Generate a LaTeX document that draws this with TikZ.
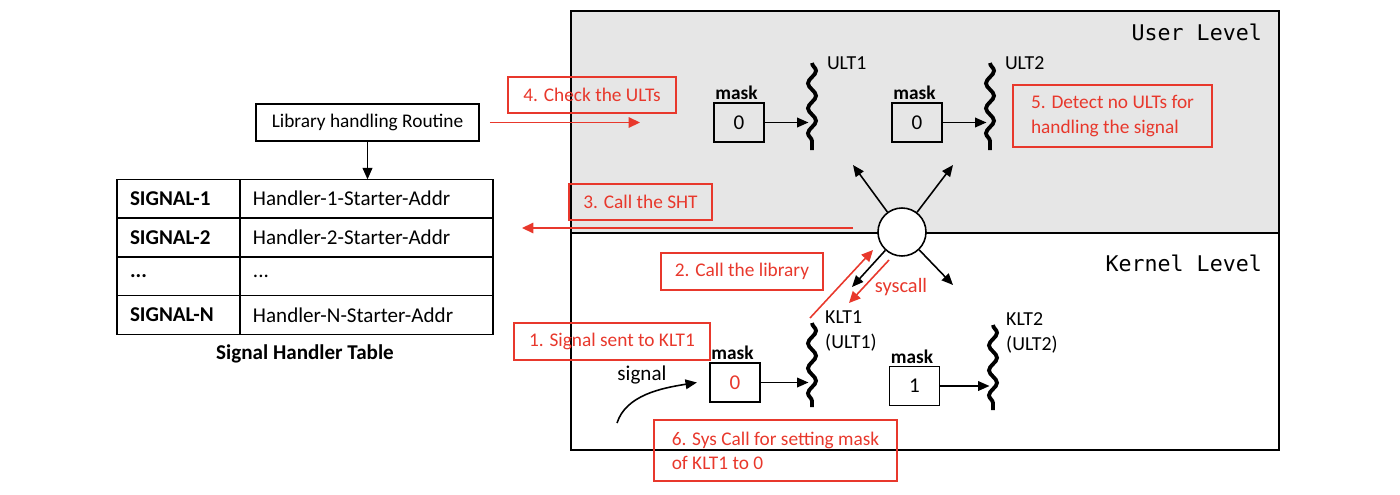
\documentclass[tikz,border=0pt]{standalone}
\usepackage{fontspec}
\setmainfont{Carlito}
\setmonofont{DejaVu Sans Mono}
\usepackage{xcolor}
\usepackage{tikz}
\usetikzlibrary{arrows.meta, positioning, decorations.pathmorphing, calc}
\definecolor{notered}{RGB}{232,56,44}
\definecolor{userbg}{RGB}{230,230,230}
\tikzstyle{level} = [rectangle, draw=black, line width=0.9pt, minimum width=14.16cm, inner sep=0pt]
\tikzstyle{levellabel} = [anchor=east, font=\ttfamily\fontsize{12.3}{14}\selectfont]
\tikzstyle{process} = [rectangle, draw=black, line width=0.9pt, minimum width=4.46cm, minimum height=0.74cm, text centered, font=\fontsize{11}{13}\selectfont]
\tikzstyle{cellkey} = [rectangle, draw=black, line width=0.9pt, outer sep=0pt, minimum height=0.775cm, text width=1.94cm, inner xsep=7.4pt, align=left, font=\bfseries\fontsize{12}{14}\selectfont]
\tikzstyle{cellval} = [rectangle, draw=black, line width=0.9pt, outer sep=0pt, minimum height=0.775cm, text width=4.54cm, inner xsep=7.4pt, align=left, font=\fontsize{12}{14}\selectfont]
\tikzstyle{maskbox} = [rectangle, draw=black, line width=0.9pt, minimum width=1cm, minimum height=0.78cm, font=\fontsize{12}{14}\selectfont]
\tikzstyle{masklabel} = [anchor=south west, inner sep=1pt, font=\bfseries\fontsize{11}{13}\selectfont]
\tikzstyle{thread} = [line width=2.2pt, decorate, decoration={snake, segment length=0.5cm, amplitude=0.08cm}]
\tikzstyle{threadlabel} = [align=left, font=\fontsize{11.3}{14.2}\selectfont]
\tikzstyle{note} = [rectangle, draw=notered, text=notered, line width=0.9pt, align=left, font=\fontsize{11}{13.7}\selectfont]
\tikzstyle{arrow} = [line width=0.9pt, -{Triangle[length=6.5pt,width=5.5pt]}]
\tikzstyle{redarrow} = [line width=0.9pt, draw=notered, -{Triangle[length=6.5pt,width=6pt]}]

\begin{document}
\begin{tikzpicture}[x=0.02cm, y=-0.02cm]
    \useasboundingbox (0,0) rectangle (1400,494);

    % user and kernel levels
    \node (user) [level, fill=userbg, minimum height=4.44cm] at (925,122) {};
    \node (kernel) [level, minimum height=4.34cm] at (925,341.5) {};
    \node (userlbl) [levellabel] at (1268,32) {User Level};
    \node (kernellbl) [levellabel] at (1268,263) {Kernel Level};

    % library routine and signal handler table
    \node (libbox) [process] at (367.5,122.5) {Library handling Routine};
    \node (s1) [cellkey] at (178.5,198.75) {SIGNAL-1};
    \node (s2) [cellkey, below=0pt of s1] {SIGNAL-2};
    \node (s3) [cellkey, below=0pt of s2] {...};
    \node (s4) [cellkey, below=0pt of s3] {SIGNAL-N};
    \node (h1) [cellval, right=0pt of s1] {Handler-1-Starter-Addr};
    \node (h2) [cellval, right=0pt of s2] {Handler-2-Starter-Addr};
    \node (h3) [cellval, right=0pt of s3] {...};
    \node (h4) [cellval, right=0pt of s4] {Handler-N-Starter-Addr};
    \node (shtlbl) [font=\bfseries\fontsize{12}{14}\selectfont] at (305,354) {Signal Handler Table};
    \draw [arrow] (libbox.south) -- (libbox.south |- h1.north);

    % threads
    \coordinate (ult1top) at (812,63);  \coordinate (ult1bot) at (812,150);
    \coordinate (ult2top) at (990,63);  \coordinate (ult2bot) at (990,150);
    \coordinate (klt1top) at (812,323); \coordinate (klt1bot) at (812,407);
    \coordinate (klt2top) at (993,325); \coordinate (klt2bot) at (993,410);
    \draw [thread] (ult1top) -- (ult1bot);
    \draw [thread] (ult2top) -- (ult2bot);
    \draw [thread] (klt1top) -- (klt1bot);
    \draw [thread] (klt2top) -- (klt2bot);
    \node (ult1lbl) [threadlabel, right=5pt of ult1top] {ULT1};
    \node (ult2lbl) [threadlabel, right=5pt of ult2top] {ULT2};
    \node (klt1lbl) [threadlabel, right=4pt of klt1top, yshift=-4.3pt] {KLT1\\(ULT1)};
    \node (klt2lbl) [threadlabel, right=4pt of klt2top, yshift=-4.3pt] {KLT2\\(ULT2)};

    % masks
    \node (um1) [maskbox] at (739,122.5) {0};
    \node (um2) [maskbox] at (917,122.5) {0};
    \node (km1) [maskbox, text=notered] at (735,382.5) {0};
    \node (km2) [maskbox] at (914.5,386) {1};
    \node [masklabel] at (um1.north west) {mask};
    \node [masklabel] at (um2.north west) {mask};
    \node [masklabel] at (km1.north west) {mask};
    \node [masklabel] at (km2.north west) {mask};
    \draw [arrow, shorten >=2pt] (um1.east) -- (um1.east -| ult1top);
    \draw [arrow, shorten >=2pt] (um2.east) -- (um2.east -| ult2top);
    \draw [arrow, shorten >=2pt] (km1.east) -- (km1.east -| klt1top);
    \draw [arrow, shorten >=2pt] (km2.east) -- (km2.east -| klt2top);

    % incoming signal
    \node (siglbl) [font=\fontsize{12}{14}\selectfont] at (642,375) {signal};
    \coordinate (sigfrom) at (617,423);
    \coordinate [left=7pt of km1.west] (sigto);
    \draw [arrow] (sigfrom) .. controls (626,395) and (662,388) .. (sigto);

    % dispatcher
    \node (disp) [circle, draw=black, fill=white, line width=0.9pt, minimum size=0.96cm] at (902,232) {};
    \coordinate (toul) at (853,165);
    \coordinate (tour) at (953,165);
    \coordinate (tolr) at (953,285);
    \coordinate (toll) at (852,287);
    \draw [arrow] (disp) -- (toul);
    \draw [arrow] (disp) -- (tour);
    \draw [arrow] (disp) -- (tolr);
    \draw [arrow] (disp) -- (toll);

    % numbered steps
    \node (n1) [note, minimum width=3.92cm, minimum height=0.74cm] at (612,341.5) {1. Signal sent to KLT1};
    \node (n2) [note, minimum width=3.24cm, minimum height=0.74cm] at (742,271.5) {2. Call the library};
    \node (n3) [note, minimum width=2.86cm, minimum height=0.72cm] at (640.5,202) {3. Call the SHT};
    \node (n4) [note, minimum width=3.36cm, minimum height=0.72cm] at (592,95) {4. Check the ULTs};
    \node (n5) [note, minimum width=3.98cm, minimum height=1.24cm] at (1112.5,116) {5. Detect no ULTs for\\handling the signal};
    \node (n6) [note, minimum width=4.86cm, minimum height=1.22cm] at (775.5,450.5) {6. Sys Call for setting mask\\of KLT1 to 0};

    \coordinate (callfrom) at (810,318);
    \coordinate (callto) at (873,250);
    \draw [redarrow] (callfrom) -- (callto);
    \coordinate (sysfrom) at (889,260);
    \coordinate (systo) at (849,303);
    \draw [redarrow] (sysfrom) -- (systo);
    \node (syslbl) [text=notered, font=\fontsize{11.6}{14}\selectfont] at (901,287) {syscall};
    \coordinate (checkto) at (640,122.5);
    \draw [redarrow, shorten <=5.7pt] (libbox.east) -- (checkto);
    \coordinate (shtfrom) at (853,228);
    \coordinate (shtto) at (522,228);
    \draw [redarrow] (shtfrom) -- (shtto);
\end{tikzpicture}
\end{document}
